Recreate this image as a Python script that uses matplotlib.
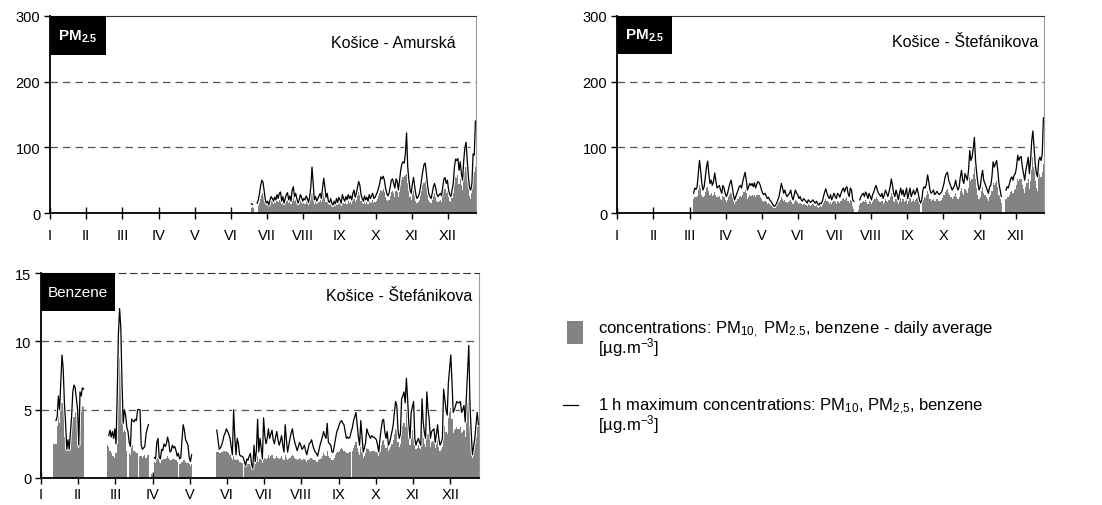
import numpy as np
import matplotlib.pyplot as plt
import matplotlib.patheffects as pe
from matplotlib.patches import Rectangle
from matplotlib.lines import Line2D

plt.rcParams['font.family'] = ['Liberation Sans', 'DejaVu Sans']
plt.rcParams['mathtext.fontset'] = 'custom'
plt.rcParams['mathtext.rm'] = 'Liberation Sans'
plt.rcParams['mathtext.it'] = 'Liberation Sans:italic'
plt.rcParams['mathtext.bf'] = 'Liberation Sans:bold'

nan = np.nan

# month labels, ticks every 31 days
months = ['I', 'II', 'III', 'IV', 'V', 'VI', 'VII', 'VIII', 'IX', 'X', 'XI', 'XII']
month_ticks = [0, 31, 62, 93, 124, 155, 186, 217, 248, 279, 310, 341]

# --- PM2.5 Košice - Amurská (data from day 172) ---
amur_start = 172
amur_max = [
    14, 13, nan, nan, nan, 15, 20, 30, 42, 50,
    47, 33, 20, 15, 18, 12, 20, 25, 22, 18,
    24, 20, 28, 22, 30, 32, 18, 25, 15, 22,
    28, 31, 20, 26, 18, 35, 40, 25, 30, 22,
    15, 20, 28, 24, 18, 22, 20, 26, 22, 16,
    25, 40, 70, 45, 20, 25, 18, 22, 26, 30,
    22, 38, 53, 40, 24, 30, 18, 16, 22, 15,
    12, 18, 14, 22, 16, 24, 20, 15, 28, 22,
    18, 25, 20, 28, 22, 26, 20, 30, 35, 24,
    30, 40, 48, 42, 28, 22, 18, 26, 20, 24,
    18, 28, 22, 26, 30, 22, 24, 28, 32, 38,
    45, 55, 52, 56, 50, 38, 30, 26, 30, 40,
    50, 52, 45, 38, 52, 48, 35, 50, 65, 75,
    78, 76, 90, 122, 70, 50, 35, 30, 45, 54,
    40, 28, 22, 25, 30, 40, 52, 65, 74, 76,
    60, 42, 30, 25, 22, 30, 40, 45, 38, 28,
    25, 28, 30, 26, 40, 52, 54, 45, 50, 35,
    28, 25, 35, 45, 70, 82, 80, 83, 65, 78,
    60, 50, 80, 100, 108, 80, 55, 38, 35, 45,
    90, 88, 140]
amur_avg = [
    8, 9, 8, nan, nan, nan, 10, 15, 22, 28,
    30, 25, 16, 12, 12, 10, 14, 18, 16, 14,
    16, 15, 18, 16, 20, 22, 14, 17, 12, 15,
    18, 20, 15, 18, 14, 22, 25, 18, 20, 16,
    12, 14, 18, 17, 13, 15, 14, 17, 15, 12,
    16, 22, 30, 25, 14, 16, 13, 15, 17, 20,
    16, 22, 30, 25, 16, 18, 13, 12, 15, 11,
    9, 12, 10, 14, 12, 16, 14, 11, 17, 15,
    13, 16, 14, 18, 15, 17, 14, 19, 22, 16,
    20, 26, 32, 28, 18, 15, 13, 17, 14, 16,
    13, 18, 15, 17, 20, 15, 17, 19, 22, 26,
    30, 35, 34, 36, 32, 25, 20, 18, 20, 26,
    32, 34, 30, 25, 34, 32, 24, 32, 42, 50,
    55, 56, 58, 60, 45, 34, 24, 20, 30, 35,
    26, 18, 15, 17, 20, 26, 34, 42, 46, 48,
    40, 28, 20, 16, 15, 20, 26, 30, 25, 18,
    16, 18, 20, 17, 26, 34, 36, 30, 33, 24,
    18, 16, 23, 30, 46, 55, 54, 58, 44, 52,
    42, 35, 55, 62, 70, 55, 38, 26, 22, 30,
    60, 62, 70]

# --- PM2.5 Košice - Štefánikova (data from day 65) ---
stef_start = 65
stef_max = [
    30, 38, 36, 40, 60, 80, 65, 45, 35, 40,
    55, 70, 79, 60, 45, 50, 42, 48, 61, 50,
    38, 40, 42, 35, 30, 42, 38, 30, 25, 30,
    38, 45, 50, 40, 28, 20, 25, 30, 35, 40,
    42, 38, 48, 55, 62, 50, 35, 40, 45, 42,
    45, 40, 46, 38, 44, 48, 46, 42, 35, 30,
    28, 30, 26, 22, 24, 20, 18, 15, 12, 10,
    12, 15, 20, 25, 35, 45, 38, 30, 35, 28,
    25, 28, 30, 35, 25, 20, 28, 35, 30, 28,
    22, 25, 20, 18, 22, 20, 18, 15, 20, 18,
    16, 18, 20, 17, 15, 18, 14, 12, 15, 14,
    18, 25, 32, 37, 30, 25, 22, 28, 20, 25,
    30, 25, 22, 30, 28, 24, 30, 35, 38, 32,
    38, 40, 30, 25, 38, 35, 20, 18, nan, nan,
    nan, nan, 20, 25, 28, 30, 25, 32, 28, 22,
    30, 25, 20, 28, 32, 38, 42, 35, 30, 28,
    25, 30, 22, 28, 35, 30, 25, 32, 40, 52,
    42, 30, 25, 35, 28, 20, 30, 38, 28, 35,
    25, 30, 38, 22, 30, 38, 25, 30, 35, 28,
    32, 38, 30, 20, 15, 20, 35, 40, 38, 45,
    58, 48, 35, 30, 32, 35, 28, 30, 33, 30,
    28, 30, 32, 38, 45, 55, 60, 62, 50, 45,
    40, 35, 38, 42, 50, 40, 35, 40, 55, 65,
    50, 45, 60, 55, 50, 65, 95, 80, 85, 98,
    115, 80, 60, 45, 35, 40, 55, 65, 50, 45,
    40, 35, 30, 40, 42, 55, 78, 70, 75, 80,
    65, 45, 35, 25, nan, nan, nan, 35, 40, 38,
    45, 52, 55, 50, 58, 60, 70, 88, 80, 85,
    86, 70, 60, 50, 65, 75, 85, 60, 80, 110,
    125, 100, 75, 60, 55, 80, 85, 80, 90, 145]
stef_avg = [
    22, 25, 24, 26, 35, 42, 38, 28, 24, 26,
    32, 38, 40, 34, 28, 30, 26, 28, 32, 28,
    24, 25, 26, 22, 20, 26, 24, 20, 17, 20,
    24, 28, 30, 25, 18, 14, 16, 19, 22, 25,
    26, 24, 28, 32, 35, 30, 22, 25, 28, 26,
    28, 26, 28, 24, 27, 28, 27, 25, 22, 18,
    17, 18, 16, 14, 15, 13, 12, 10, 8, 7,
    8, 10, 13, 16, 20, 24, 22, 18, 20, 17,
    15, 17, 18, 20, 16, 13, 17, 20, 18, 17,
    14, 15, 13, 12, 14, 13, 12, 10, 13, 12,
    10, 12, 13, 11, 10, 12, 9, 8, 10, 9,
    12, 15, 19, 22, 19, 16, 14, 17, 13, 16,
    18, 16, 14, 18, 17, 15, 18, 21, 23, 20,
    22, 24, 18, 15, 20, 18, 10, 6, nan, nan,
    nan, 5, 12, 15, 17, 18, 16, 20, 17, 14,
    18, 16, 13, 17, 20, 22, 25, 21, 18, 17,
    16, 18, 14, 17, 21, 19, 16, 20, 24, 30,
    26, 19, 16, 21, 17, 13, 18, 23, 17, 21,
    16, 18, 23, 14, 18, 23, 16, 18, 21, 17,
    20, 23, 19, 13, nan, nan, 20, 24, 23, 27,
    34, 29, 22, 19, 20, 22, 18, 19, 21, 19,
    18, 19, 20, 23, 27, 32, 35, 36, 30, 27,
    25, 22, 24, 26, 30, 25, 22, 25, 33, 38,
    30, 28, 36, 34, 30, 38, 55, 48, 52, 60,
    70, 52, 38, 28, 22, 25, 33, 40, 31, 28,
    25, 22, 19, 25, 27, 34, 45, 42, 45, 48,
    40, 28, 22, 15, nan, nan, nan, 22, 25, 24,
    28, 32, 34, 31, 35, 37, 43, 52, 48, 52,
    52, 43, 37, 30, 40, 45, 52, 37, 48, 65,
    85, 70, 48, 38, 34, 55, 60, 55, 62, 75]

# --- Benzene Košice - Štefánikova (three measured periods) ---
benz_starts = [10, 55, 146]
benz_max_parts = [
    [nan, nan, 4.2, 4.5, 6.0, 5.0, 7.0, 9.0, 8.0, 5.5,
     4.0, 2.1, 2.8, 2.1, 3.3, 4.5, 6.3, 6.8, 6.6, 5.8,
     5.0, 2.4, 6.3, 6.0, 6.6, 6.5],
    [nan, 3.1, 3.5, 3.0, 3.4, 2.9, 3.6, 2.5, 6.0, 10.5,
     12.4, 11.0, 7.0, 4.0, 5.0, 4.6, 3.7, 3.4, 2.6, 2.3,
     4.3, 4.2, 4.1, 4.3, 4.2, 5.0, 5.0, 5.0, 2.4, 2.1,
     2.2, 2.3, 3.2, 3.6, 3.9, nan, nan, nan, nan,
     1.5, 1.4, 2.6, 2.9, 1.5, 1.4, 2.1, 2.0, 2.5, 2.3,
     2.5, 3.0, 2.6, 1.9, 2.0, 2.4, 2.2, 2.3, 2.0, 1.6,
     1.8, 1.4, 1.5, 2.8, 3.9, 3.5, 2.8, 2.6, 2.4, 1.5,
     1.2, 1.7],
    [3.5, 2.8, 2.1, 2.2, 2.4, 2.7, 3.1, 3.3, 3.6, 3.4,
     3.2, 2.9, 2.3, 1.7, 5.0, 3.0, 1.7, 2.9, 2.5, 1.7,
     1.6, 1.6, 1.5, 1.2, 0.9, 1.4, 1.3, 1.6, 1.8, 1.0,
     0.7, 2.4, 1.2, 2.0, 4.3, 1.9, 2.9, 2.2, 1.4, 4.4,
     3.1, 2.5, 2.9, 3.6, 2.9, 3.2, 3.5, 2.8, 2.5, 3.0,
     3.4, 2.8, 2.4, 2.7, 3.1, 2.4, 1.9, 3.9, 2.8, 1.9,
     2.4, 2.9, 3.3, 3.6, 3.0, 2.6, 2.3, 2.0, 2.3, 2.6,
     2.4, 2.1, 2.2, 2.4, 2.0, 1.7, 2.1, 2.5, 2.6, 2.8,
     2.4, 2.1, 1.9, 1.8, 1.6, 2.0, 2.4, 2.7, 3.0, 3.4,
     3.1, 2.9, 4.0, 2.6, 2.5, 2.4, 1.9, 1.9, 2.4, 2.9,
     3.4, 3.6, 3.9, 4.1, 4.2, 4.0, 3.9, 3.4, 2.9, 3.0,
     2.9, 3.0, 3.4, 3.7, 4.2, 4.5, 4.8, 3.9, 3.0, 2.4,
     4.2, 3.0, 1.9, 2.2, 2.6, 3.6, 3.3, 3.1, 2.9, 3.1,
     3.0, 3.0, 2.9, 2.8, 2.4, 1.9, 2.9, 3.6, 4.2, 4.3,
     3.4, 2.9, 3.4, 2.4, 2.6, 3.0, 3.4, 3.9, 4.8, 5.6,
     5.3, 3.5, 2.9, 3.2, 5.8, 6.0, 6.3, 5.5, 7.3, 5.8,
     4.0, 2.9, 4.8, 5.2, 5.6, 2.9, 2.4, 2.7, 2.9, 2.6,
     2.4, 5.8, 4.1, 3.3, 2.9, 6.3, 5.0, 4.3, 2.9, 3.4,
     3.5, 3.6, 2.6, 3.2, 3.9, 2.9, 2.4, 2.6, 2.9, 6.5,
     5.8, 5.0, 4.6, 7.0, 8.0, 9.0, 7.0, 4.8, 5.0, 5.3,
     5.6, 5.5, 5.5, 5.6, 4.8, 5.0, 5.3, 4.1, 6.0, 7.8,
     9.7, 5.3, 3.4, 1.7, 2.3, 2.9, 3.9, 4.8, 3.9],
]
benz_avg_parts = [
    [2.5, 2.5, 2.5, 3.8, 5.5, 4.0, 5.0, 5.5, 5.5, 3.0,
     2.2, 2.0, 2.2, 2.0, 2.5, 3.5, 4.2, 4.5, 4.8, 4.5,
     3.2, 2.2, 5.0, 4.8, 5.3, 5.2],
    [2.4, 2.3, 2.0, 1.8, 1.6, 1.6, 1.5, 1.8, 4.0, 9.0,
     8.8, 7.8, 5.0, 3.4, 3.5, 3.4, 2.0, nan, 1.8, 1.7,
     2.5, 2.4, 2.0, 1.9, 1.8, 1.8, nan, 1.6, 1.6, 1.5,
     1.6, 1.7, 1.5, 1.7, 1.7, nan, nan, 0.3, nan,
     1.2, 1.1, 1.3, 1.5, 1.2, 1.1, 1.3, 1.3, 1.4, 1.4,
     1.5, 1.6, 1.5, 1.3, 1.3, 1.4, 1.4, 1.4, 1.3, 1.2,
     nan, 1.0, 1.0, 1.2, 1.3, 1.3, 1.2, 1.1, 1.1, 1.0,
     0.9, 1.0],
    [1.9, 1.9, 1.8, 1.8, 1.9, 1.9, 2.0, 1.9, 2.0, 1.9,
     1.8, 1.7, 1.5, 1.3, 1.6, 1.4, 1.3, 1.4, 1.3, 1.2,
     1.2, 1.1, nan, 0.9, 0.8, 0.9, 1.0, 1.0, 1.1, 0.8,
     0.7, 1.1, 1.0, 1.2, 1.6, 1.2, 1.4, 1.3, 1.1, 1.7,
     1.5, 1.4, 1.5, 1.7, 1.5, 1.6, 1.7, 1.5, 1.4, 1.5,
     1.6, 1.5, 1.4, 1.5, 1.6, 1.4, 1.3, 1.7, 1.5, 1.3,
     1.4, 1.5, 1.6, 1.7, 1.6, 1.5, 1.4, 1.3, 1.4, 1.5,
     1.4, 1.3, 1.4, 1.4, 1.3, 1.2, 1.3, 1.4, 1.5, 1.5,
     1.4, 1.3, 1.3, 1.2, 1.2, 1.3, 1.4, 1.5, 1.6, 1.8,
     1.7, 1.6, 2.0, 1.6, 1.5, 1.5, 1.3, 1.3, 1.5, 1.7,
     1.8, 1.9, 2.0, 2.1, 2.2, 2.1, 2.0, 1.9, 1.8, 1.8,
     1.8, 1.9, nan, 2.0, 2.2, 2.4, 2.6, 2.2, 1.9, 1.7,
     2.3, 1.9, 1.5, 1.6, 1.8, 2.2, 2.1, 2.0, 1.9, 2.0,
     2.0, 2.0, 1.9, 1.9, 1.8, 1.6, 2.0, 2.4, 2.7, 2.8,
     2.4, 2.2, 2.4, 2.0, 2.1, 2.3, 2.5, 2.8, 3.2, 3.6,
     3.5, 2.6, 2.3, 2.5, 3.6, 3.8, 4.0, 3.7, 4.8, 4.0,
     3.0, 2.4, 3.3, 3.5, 3.6, 2.4, 2.1, 2.2, 2.4, 2.2,
     2.1, 3.6, 2.9, 2.5, 2.3, 3.8, 3.2, 2.9, 2.3, 2.6,
     2.7, 2.7, 2.2, 2.5, 2.8, 2.3, 2.0, 2.1, 2.3, 4.0,
     3.8, 3.4, 3.2, 4.4, 4.8, 5.1, 4.3, 3.3, 3.5, 3.6,
     3.7, 3.6, 3.6, 3.7, 3.3, 3.4, 3.5, 3.0, 4.0, 5.5,
     7.0, 3.8, 2.5, 1.5, 1.9, 2.3, 3.0, 3.7, 3.8],
]

GRAY = '#838383'


def full_year(starts, parts):
    arr = np.full(365, np.nan)
    for s, vals in zip(starts, parts):
        v = np.asarray(vals, dtype=float)[:365 - s]
        arr[s:s + len(v)] = v
    return arr


def draw_panel(ax, avg, mx, ymax, ystep, tag, station, box_w, box_h, tag_x, st_x, st_y,
               tag_bold=True, xpad=7):
    days = np.arange(365)
    for y in np.arange(ystep, ymax, ystep):
        ax.axhline(y, color='#555555', lw=0.9, ls=(0, (6, 4)), zorder=1)
    ax.stairs(avg, np.arange(366), baseline=0, fill=True, color=GRAY, lw=0, zorder=2)
    ax.plot(days + 0.5, mx, color='black', lw=0.9, zorder=3,
            path_effects=[pe.Stroke(linewidth=2.2, foreground='white'), pe.Normal()])
    ax.set_xlim(0, 365)
    ax.set_ylim(0, ymax)
    ax.set_yticks(np.arange(0, ymax + 1, ystep))
    ax.set_xticks(month_ticks)
    ax.set_xticklabels(months)
    ax.tick_params(axis='x', direction='inout', length=8, width=1, labelsize=10.5, pad=xpad)
    ax.tick_params(axis='y', direction='out', length=4, width=1, labelsize=10.5, pad=3)
    ax.spines['left'].set_linewidth(1.3)
    ax.spines['bottom'].set_linewidth(1.3)
    ax.spines['top'].set_linewidth(0.8)
    ax.spines['top'].set_color('#333333')
    ax.spines['right'].set_linewidth(0.8)
    ax.spines['right'].set_color('#999999')
    ax.add_patch(Rectangle((0, 1 - box_h), box_w, box_h, transform=ax.transAxes,
                           facecolor='black', edgecolor='none', zorder=5, clip_on=False))
    ax.text(tag_x, 1 - box_h / 2, tag, transform=ax.transAxes, color='white',
            fontsize=11, fontweight='bold' if tag_bold else 'normal',
            ha='center', va='center', zorder=6)
    ax.text(st_x, st_y, station, transform=ax.transAxes, ha='right', va='center',
            fontsize=11.5, zorder=6)


fig = plt.figure(figsize=(11.02, 5.06), dpi=100)

ax1 = fig.add_axes([50 / 1102, 1 - 214 / 506, 426 / 1102, 197 / 506])
draw_panel(ax1, full_year([amur_start], [amur_avg]), full_year([amur_start], [amur_max]),
           300, 100, r'PM$_{\mathbf{2.5}}$', 'Košice - Amurská', 0.131, 0.198, 0.065, 0.951, 0.868)

ax2 = fig.add_axes([617 / 1102, 1 - 214 / 506, 427 / 1102, 197 / 506])
draw_panel(ax2, full_year([stef_start], [stef_avg]), full_year([stef_start], [stef_max]),
           300, 100, r'PM$_{\mathbf{2.5}}$', 'Košice - Štefánikova', 0.129, 0.195, 0.065, 0.986, 0.873)

ax3 = fig.add_axes([41 / 1102, 1 - 479 / 506, 438 / 1102, 205 / 506])
draw_panel(ax3, full_year(benz_starts, benz_avg_parts), full_year(benz_starts, benz_max_parts),
           15, 5, 'Benzene', 'Košice - Štefánikova', 0.169, 0.187, 0.085, 0.985, 0.888,
           tag_bold=False, xpad=2.5)
ax3.spines['top'].set_linestyle((0, (6, 4)))

# legend drawn by hand in figure coordinates
fig.add_artist(Rectangle((567 / 1102, 1 - 345 / 506), 16 / 1102, 23 / 506,
                         transform=fig.transFigure, facecolor=GRAY, edgecolor='none'))
fig.text(598 / 1102, 1 - 320 / 506,
         'concentrations: PM$_{10,}$ PM$_{2.5}$, benzene - daily average\n[µg.m$^{-3}$]',
         fontsize=12, va='top', linespacing=0.75)
fig.add_artist(Line2D([563 / 1102, 578 / 1102], [1 - 406 / 506, 1 - 406 / 506],
                      transform=fig.transFigure, color='black', lw=0.9))
fig.text(598 / 1102, 1 - 397 / 506,
         '1 h maximum concentrations: PM$_{10}$, PM$_{2{,}5}$, benzene\n[µg.m$^{-3}$]',
         fontsize=12, va='top', linespacing=0.75)

fig.savefig('out.png', dpi=100)
